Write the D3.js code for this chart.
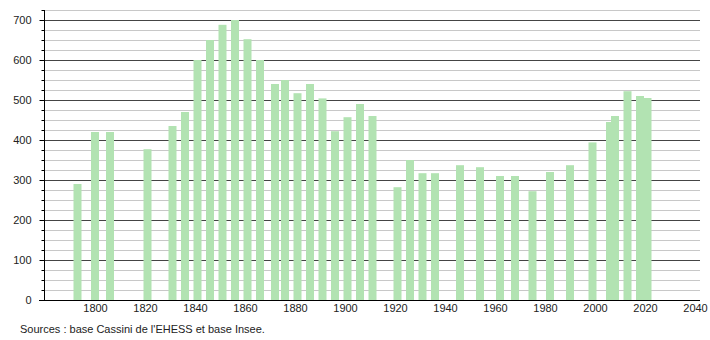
<!DOCTYPE html>
<html>
<head>
<meta charset="utf-8">
<title>Population</title>
<script src="https://cdn.jsdelivr.net/npm/d3@7/dist/d3.min.js"></script>
<style>
  body { margin: 0; background: #fff; }
  svg text { font-family: "Liberation Sans", Arial, sans-serif; font-size: 11px; fill: #222; }
</style>
</head>
<body>
<div id="chart"></div>
<script>
// census years and population
var years = [1793, 1800, 1806, 1821, 1831, 1836, 1841, 1846, 1851, 1856, 1861, 1866,
             1872, 1876, 1881, 1886, 1891, 1896, 1901, 1906, 1911, 1921, 1926, 1931,
             1936, 1946, 1954, 1962, 1968, 1975, 1982, 1990, 1999, 2006, 2008, 2013,
             2018, 2021];
var population = [290, 420, 420, 377, 435, 470, 600, 650, 688, 700, 652, 600,
                  540, 550, 517, 540, 504, 422, 457, 490, 460, 282, 350, 317,
                  317, 337, 332, 310, 310, 272, 320, 337, 394, 445, 460, 522,
                  510, 505];
var xTicks = [1800, 1820, 1840, 1860, 1880, 1900, 1920, 1940, 1960, 1980, 2000, 2020, 2040];
var yTicks = [0, 100, 200, 300, 400, 500, 600, 700];
var source = "Sources : base Cassini de l'EHESS et base Insee.";

var width = 710, height = 340;
var mLeft = 44, mRight = 700, mTop = 10, mBottom = 300;

var svg = d3.select("#chart").append("svg")
  .attr("width", width)
  .attr("height", height);

var x = d3.scaleLinear().domain([1779.6, 2042]).range([mLeft, mRight]);
var y = d3.scaleLinear().domain([0, 725]).range([mBottom, mTop]);

// minor grid every 25
var minor = d3.range(25, 726, 25).filter(function(v) { return v % 100 != 0; });
svg.selectAll("line.minor").data(minor).enter().append("line")
  .attr("class", "minor")
  .attr("x1", mLeft).attr("x2", mRight)
  .attr("y1", function(d) { return Math.round(y(d)) + 0.5; })
  .attr("y2", function(d) { return Math.round(y(d)) + 0.5; })
  .style("stroke", "#c8c8c8").style("stroke-width", 1);

// major grid
svg.selectAll("line.major").data(yTicks.slice(1)).enter().append("line")
  .attr("class", "major")
  .attr("x1", mLeft).attr("x2", mRight)
  .attr("y1", function(d) { return Math.round(y(d)) + 0.5; })
  .attr("y2", function(d) { return Math.round(y(d)) + 0.5; })
  .style("stroke", "#444").style("stroke-width", 1);

// bars
var barW = 8;
svg.selectAll("rect.bar").data(years).enter().append("rect")
  .attr("class", "bar")
  .attr("x", function(d) { return x(d) - barW / 2; })
  .attr("y", function(d, i) { return y(population[i]); })
  .attr("width", barW)
  .attr("height", function(d, i) { return mBottom - y(population[i]); })
  .style("fill", "#b2e3b2");

// y axis
var yAxis = d3.axisLeft(y).tickValues(yTicks).tickSize(5).tickPadding(8);
var gy = svg.append("g").attr("transform", "translate(" + (mLeft + 0.5) + ",0)").call(yAxis);
gy.select(".domain").attr("d", "M0," + mTop + "V" + mBottom).style("stroke", "#000");
gy.selectAll(".tick line").style("stroke", "#000");
gy.attr("font-family", null).attr("font-size", null);

// minor ticks on y axis
gy.selectAll("line.mtick").data(minor).enter().append("line")
  .attr("class", "mtick")
  .attr("x1", -3).attr("x2", 0)
  .attr("y1", function(d) { return Math.round(y(d)) + 0.5; })
  .attr("y2", function(d) { return Math.round(y(d)) + 0.5; })
  .style("stroke", "#000");

// x axis
var xAxis = d3.axisBottom(x).tickValues(xTicks).tickSize(0).tickPadding(4).tickFormat(d3.format("d"));
var gx = svg.append("g").attr("transform", "translate(0," + (mBottom + 0.5) + ")").call(xAxis);
gx.select(".domain").attr("d", "M" + (mLeft - 5) + ",0H" + mRight).style("stroke", "#000");
gx.attr("font-family", null).attr("font-size", null);

// source
svg.append("text")
  .attr("x", 20).attr("y", 333)
  .text(source);
</script>
</body>
</html>
